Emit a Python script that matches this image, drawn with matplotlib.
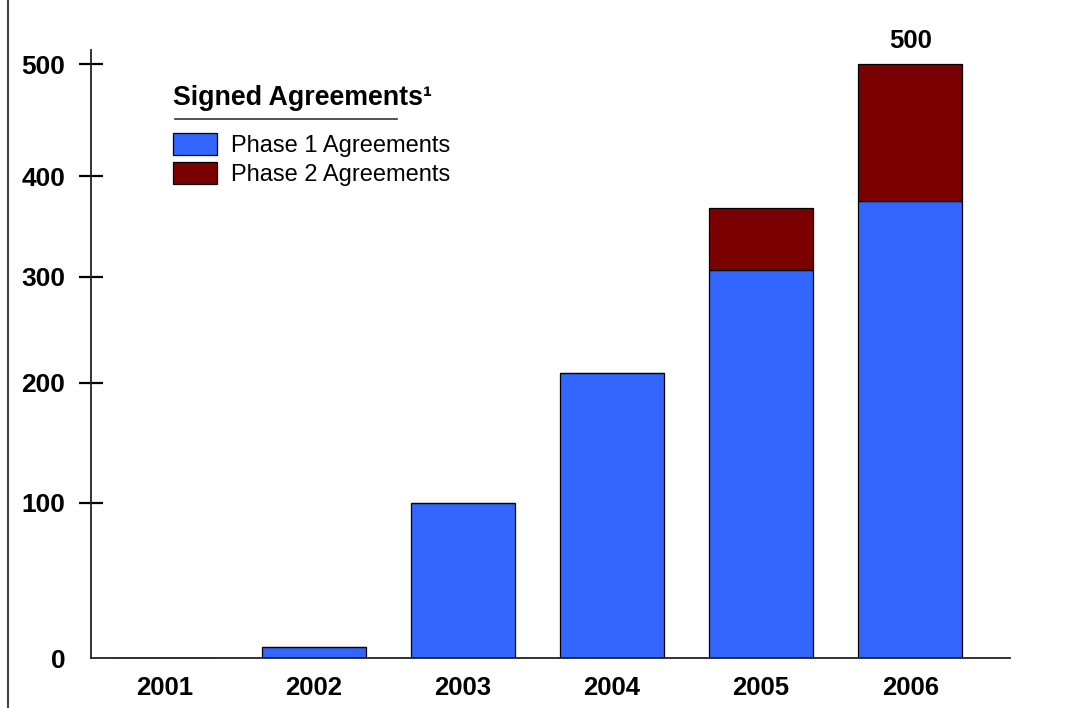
import numpy as np
import matplotlib
import matplotlib.pyplot as plt
from matplotlib.lines import Line2D
from matplotlib.patches import Patch

matplotlib.use("Agg")

# --- Data ---
years = ["2001", "2002", "2003", "2004", "2005", "2006"]
phase1 = [0, 7, 100, 209, 307, 375]
phase2 = [0, 0, 0, 0, 61, 125]
y_ticks = [0, 100, 200, 300, 400, 500]

# --- Style ---
blue = "#3366ff"
red = "#7b0000"
font = "Liberation Sans"
plt.rcParams["font.family"] = [font, "DejaVu Sans"]

# uneven y axis, as drawn in the original slide: tick value -> pixel height
scale_vals = np.array([0, 100, 200, 300, 400, 500], float)
scale_px = np.array([0, 155, 275, 381, 482, 594], float)


def _piecewise(v, xs, ys):
    v = np.asarray(v, float)
    out = np.interp(v, xs, ys)
    hi_slope = (ys[-1] - ys[-2]) / (xs[-1] - xs[-2])
    lo_slope = (ys[1] - ys[0]) / (xs[1] - xs[0])
    out = np.where(v > xs[-1], ys[-1] + (v - xs[-1]) * hi_slope, out)
    out = np.where(v < xs[0], ys[0] + (v - xs[0]) * lo_slope, out)
    return out


def forward(v):
    return _piecewise(v, scale_vals, scale_px)


def inverse(p):
    return _piecewise(p, scale_px, scale_vals)


W, H, dpi = 1087, 708, 100
fig = plt.figure(figsize=(W / dpi, H / dpi), dpi=dpi)
fig.patch.set_facecolor("white")
ax = fig.add_axes([91 / W, 50 / H, (1010 - 91) / W, 608 / H])

ax.set_yscale("function", functions=(forward, inverse))

x = np.arange(len(years))
totals = [a + b for a, b in zip(phase1, phase2)]
bw = 0.70
ax.bar(x, phase1, width=bw, color=blue, edgecolor="black", linewidth=0.9)
ax.bar(x, phase2, width=bw, bottom=phase1, color=red, edgecolor="black", linewidth=0.9)

ax.set_xlim(-0.497, 5.67)
ax.set_ylim(0, float(inverse(608)))

# axes look
for side in ["top", "right"]:
    ax.spines[side].set_visible(False)
for side in ["left", "bottom"]:
    ax.spines[side].set_linewidth(1.3)
    ax.spines[side].set_color("#222222")

ax.set_yticks(y_ticks)
ax.set_yticklabels([str(t) for t in y_ticks], fontsize=19, fontweight="bold")
ax.tick_params(axis="y", direction="inout", length=17, width=1.6, pad=10, colors="black")
ax.yaxis.get_major_ticks()[0].tick1line.set_visible(False)

ax.set_xticks(x)
ax.set_xticklabels(years, fontsize=18.5, fontweight="bold")
ax.tick_params(axis="x", length=0, pad=13)

# total label on the last bar
ax.annotate(
    f"{totals[-1]}",
    xy=(x[-1], totals[-1]),
    xytext=(0, 8),
    textcoords="offset points",
    ha="center",
    va="bottom",
    fontsize=18.5,
    fontweight="bold",
)

# legend
handles = [
    Patch(facecolor=blue, edgecolor="black", linewidth=0.9),
    Patch(facecolor=red, edgecolor="black", linewidth=0.9),
]
leg = ax.legend(
    handles,
    ["Phase 1 Agreements", "Phase 2 Agreements"],
    title="Signed Agreements\u00b9",
    loc="upper left",
    bbox_to_anchor=(0.076, 0.962),
    frameon=False,
    fontsize=17,
    title_fontproperties={"weight": "bold", "size": 19.3},
    alignment="left",
    handlelength=1.86,
    handleheight=1.05,
    handletextpad=0.6,
    labelspacing=0.22,
    borderpad=0.0,
)
leg._legend_box.sep = 16

# underline under the legend title
fig.add_artist(
    Line2D([175 / W, 397 / W], [1 - 119 / H, 1 - 119 / H], color="#333333", linewidth=1.2)
)

# slide border on the left
fig.add_artist(Line2D([8 / W, 8 / W], [0, 1], color="#444444", linewidth=1.5))

fig.savefig("out.png", dpi=dpi)
plt.close()
